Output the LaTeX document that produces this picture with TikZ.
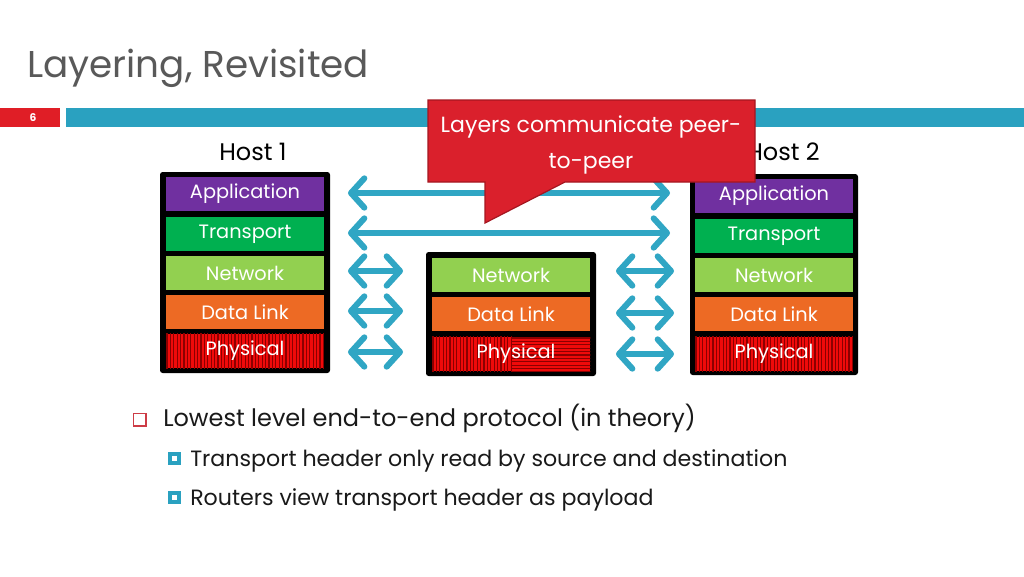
\documentclass[tikz,border=0pt]{standalone}
\usepackage{fontspec}
\setmainfont{Poppins}
\usetikzlibrary{arrows.meta}
\definecolor{titlegray}{RGB}{89,89,89}
\definecolor{barred}{RGB}{224,30,38}
\definecolor{barteal}{RGB}{42,161,192}
\definecolor{arrteal}{RGB}{48,166,196}
\definecolor{appc}{RGB}{112,48,160}
\definecolor{trac}{RGB}{0,176,80}
\definecolor{netc}{RGB}{146,208,80}
\definecolor{dlc}{RGB}{237,106,36}
\definecolor{phyc}{RGB}{240,10,10}
\definecolor{phystripe}{RGB}{140,0,0}
\definecolor{calloutfill}{RGB}{218,32,44}
\definecolor{calloutdraw}{RGB}{165,22,32}
\definecolor{bulletred}{RGB}{205,60,70}
\begin{document}
\begin{tikzpicture}[x=0.75pt,y=-0.75pt,
  layer/.style={minimum width=158*0.75pt,minimum height=34*0.75pt,inner sep=0pt,text=white,font=\fontsize{14.5}{16}\selectfont},
  stackbg/.style={fill=black,rounded corners=2pt},
  arr/.style={draw=arrteal,line width=6*0.75pt,line cap=round,{Straight Barb[length=10pt,width=22pt,round]}-{Straight Barb[length=10pt,width=22pt,round]}},
  hostlbl/.style={font=\fontsize{18}{20}\selectfont,text=black},
]
\useasboundingbox (0,0) rectangle (1024,576);
\fill[white] (0,0) rectangle (1024,576);
% title
\node[anchor=base west,inner sep=0pt,text=titlegray,font=\fontsize{28}{32}\selectfont] (title) at (27,77) {Layering, Revisited};
% bars
\fill[barred] (0,108) rectangle (60,127);
\node[text=white,font=\bfseries\fontsize{8}{9}\selectfont,inner sep=0pt] (pnum) at (33,117.5) {6};
\fill[barteal] (66,108) rectangle (1024,127);
% host labels
\node[hostlbl] (h1) at (253,152) {Host 1};
\node[hostlbl] (h2) at (783,152) {Host 2};
% stack 1
\fill[stackbg] (160,172) rectangle (330,373);
\node[layer,fill=appc] (app1) at (245,194) {Application};
\node[layer,fill=trac] (tra1) at (245,234) {Transport};
\node[layer,fill=netc] (net1) at (245,273) {Network};
\node[layer,fill=dlc] (dl1) at (245,312) {Data Link};
\node[layer,fill=phyc] (phy1) at (245,351) {};
\begin{scope}
\clip (phy1.south west) rectangle (phy1.north east);
\foreach \i in {0,...,46} \draw[phystripe,line width=1.1*0.75pt] (167+\i*3.4,330) -- (167+\i*3.4,372);
\end{scope}
\node[layer] at (phy1) {Physical};
% stack 2
\fill[stackbg] (690,174) rectangle (858,375);
\node[layer,fill=appc] (app2) at (774,196) {Application};
\node[layer,fill=trac] (tra2) at (774,236) {Transport};
\node[layer,fill=netc] (net2) at (774,275) {Network};
\node[layer,fill=dlc] (dl2) at (774,314) {Data Link};
\node[layer,fill=phyc] (phy2) at (774,354) {};
\begin{scope}
\clip (phy2.south west) rectangle (phy2.north east);
\foreach \i in {0,...,46} \draw[phystripe,line width=1.1*0.75pt] (696+\i*3.4,330) -- (696+\i*3.4,375);
\end{scope}
\node[layer] at (phy2) {Physical};
% middle stack
\fill[stackbg] (426,252) rectangle (596,376);
\node[layer,fill=netc] (netm) at (511,275) {Network};
\node[layer,fill=dlc] (dlm) at (511,314) {Data Link};
\node[layer,fill=phyc] (phym) at (511,354) {};
\begin{scope}
\clip (phym.south west) rectangle (phym.north east);
\foreach \i in {0,...,23} \draw[phystripe,line width=1.1*0.75pt] (433+\i*3.4,330) -- (433+\i*3.4,375);
\foreach \j in {0,...,10} \draw[phystripe,line width=1.1*0.75pt] (511,338+\j*3.4) -- (592,338+\j*3.4);
\end{scope}
\node[layer] at ([xshift=5*0.75pt]phym) {Physical};
% arrow end points
\coordinate (aL1) at (348,193); \coordinate (aR1) at (670,193);
\coordinate (aL2) at (348,233); \coordinate (aR2) at (670,233);
\coordinate (nL1) at (348,271); \coordinate (nR1) at (403,271);
\coordinate (nL2) at (616,271); \coordinate (nR2) at (674,271);
\coordinate (dL1) at (348,311); \coordinate (dR1) at (403,311);
\coordinate (dL2) at (616,313); \coordinate (dR2) at (674,313);
\coordinate (pL1) at (348,352); \coordinate (pR1) at (403,352);
\coordinate (pL2) at (616,354); \coordinate (pR2) at (674,354);
\draw[arr] (aL1) -- (aR1);
\draw[arr] (aL2) -- (aR2);
\draw[arr] (nL1) -- (nR1);
\draw[arr] (nL2) -- (nR2);
\draw[arr] (dL1) -- (dR1);
\draw[arr] (dL2) -- (dR2);
\draw[arr] (pL1) -- (pR1);
\draw[arr] (pL2) -- (pR2);
% callout
\draw[fill=calloutfill,draw=calloutdraw,line width=1.2*0.75pt] (428,100) -- (755,100) -- (755,182) -- (565,182) -- (485,223) -- (485,182) -- (428,182) -- cycle;
\node[text=white,font=\fontsize{16.5}{27}\selectfont,align=center,inner sep=0pt] (callout) at (591,145) {Layers communicate peer-\\to-peer};
% bullets
\draw[bulletred,line width=1.1*0.75pt] (133.5,413.5) rectangle (146,426) coordinate (b1);
\node[anchor=base west,inner sep=0pt,font=\fontsize{18}{20}\selectfont,text=black!90] (t1) at (163,426) {Lowest level end-to-end protocol (in theory)};
\fill[barteal] (168,452) rectangle (181,465);
\fill[white] (172,456) rectangle (177,461);
\node[anchor=base west,inner sep=0pt,font=\fontsize{16.6}{18}\selectfont,text=black!90] (t2) at (190,466) {Transport header only read by source and destination};
\fill[barteal] (168,491) rectangle (181,504);
\fill[white] (172,495) rectangle (177,500);
\node[anchor=base west,inner sep=0pt,font=\fontsize{16.6}{18}\selectfont,text=black!90] (t3) at (190,505) {Routers view transport header as payload};
\end{tikzpicture}
\end{document}
